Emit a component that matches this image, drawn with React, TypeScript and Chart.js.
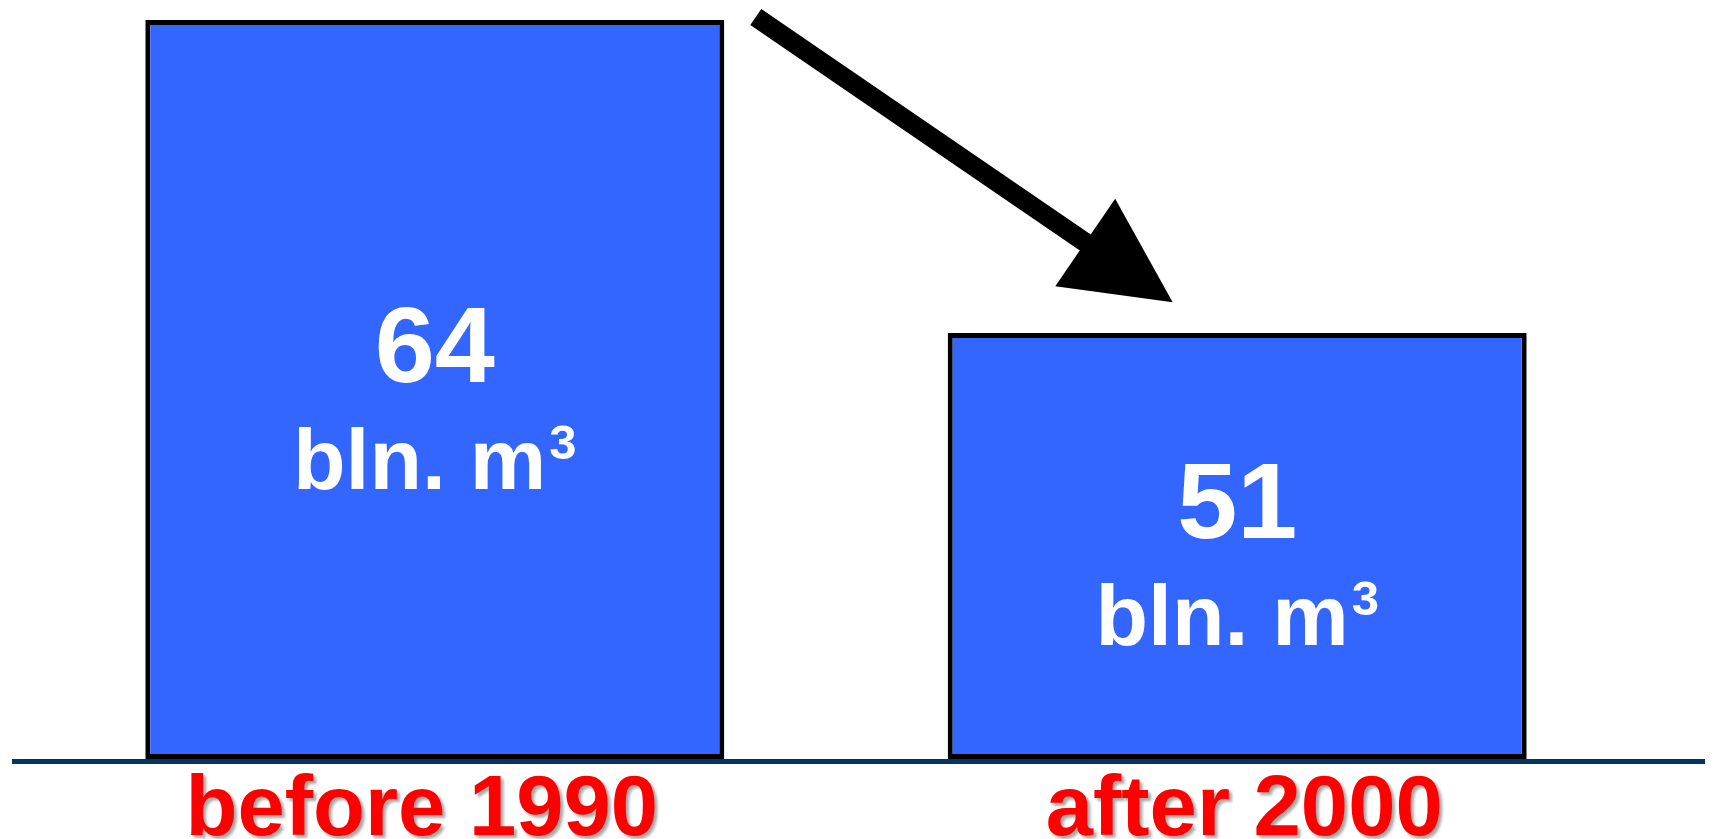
import React, { useEffect, useRef } from "react";
import { Chart, registerables } from "chart.js";

Chart.register(...registerables);

const categories = ["before 1990", "after 2000"];
const volumes = [64, 51];
const valueLabels = ["64", "51"];
const unitText = "bln. m";
const unitSup = "3";
const yMin = 33.3;
const yMax = 64;

const FONT = "'Liberation Sans', Arial, sans-serif";
const labelShift = [-13, 7];

const decorPlugin = {
  id: "decor",
  beforeDatasetsDraw(chart: any) {
    const ctx = chart.ctx;
    const area = chart.chartArea;
    ctx.save();
    ctx.strokeStyle = "#023564";
    ctx.lineWidth = 5;
    ctx.beginPath();
    ctx.moveTo(12, area.bottom + 2.5);
    ctx.lineTo(1705, area.bottom + 2.5);
    ctx.stroke();
    ctx.restore();
  },
  afterDatasetsDraw(chart: any) {
    const ctx = chart.ctx;
    const area = chart.chartArea;
    const meta = chart.getDatasetMeta(0);
    const labels = chart.data.labels as string[];
    const bottom = chart.scales.y.getPixelForValue(yMin);
    ctx.save();
    meta.data.forEach((el: any, i: number) => {
      const x = el.x;
      const cy = (el.y + bottom) / 2;
      ctx.fillStyle = "#ffffff";
      ctx.textBaseline = "alphabetic";
      ctx.textAlign = "center";
      ctx.font = `bold 108px ${FONT}`;
      ctx.fillText(valueLabels[i], x, cy - 8);
      ctx.font = `bold 86px ${FONT}`;
      const wMain = ctx.measureText(unitText).width;
      ctx.font = `bold 49px ${FONT}`;
      const wSup = ctx.measureText(unitSup).width;
      const total = wMain + 3 + wSup;
      const start = x - total / 2;
      ctx.textAlign = "left";
      ctx.font = `bold 86px ${FONT}`;
      ctx.fillText(unitText, start, cy + 99);
      ctx.font = `bold 49px ${FONT}`;
      ctx.fillText(unitSup, start + wMain + 3, cy + 69);

      // category labels
      ctx.save();
      ctx.shadowColor = "rgba(0,0,0,0.35)";
      ctx.shadowOffsetX = 3;
      ctx.shadowOffsetY = 3;
      ctx.shadowBlur = 3;
      ctx.fillStyle = "#ff0000";
      ctx.textAlign = "center";
      ctx.font = `bold 85px ${FONT}`;
      ctx.fillText(labels[i], x + labelShift[i], area.bottom + 76);
      ctx.restore();
    });

    // arrow from bar 1 to bar 2
    const b1 = meta.data[0] as any;
    const b2 = meta.data[1] as any;
    const sx = b1.x + b1.width / 2 + 31.5;
    const sy = b1.y - 3;
    const tx = b2.x - b2.width / 2 + 225;
    const ty = b2.y - 30.6;
    const dx = tx - sx;
    const dy = ty - sy;
    const len = Math.sqrt(dx * dx + dy * dy);
    const ux = dx / len;
    const uy = dy / len;
    const headLen = 106;
    const headHalf = 53;
    const bx = tx - ux * headLen;
    const by = ty - uy * headLen;
    ctx.strokeStyle = "#000000";
    ctx.fillStyle = "#000000";
    ctx.lineWidth = 19.5;
    ctx.lineCap = "butt";
    ctx.beginPath();
    ctx.moveTo(sx, sy);
    ctx.lineTo(bx + ux * 5, by + uy * 5);
    ctx.stroke();
    ctx.beginPath();
    ctx.moveTo(tx, ty);
    ctx.lineTo(bx - uy * headHalf, by + ux * headHalf);
    ctx.lineTo(bx + uy * headHalf, by - ux * headHalf);
    ctx.closePath();
    ctx.fill();
    ctx.restore();
  },
};

export default function App() {
  const ref = useRef<HTMLCanvasElement | null>(null);
  useEffect(() => {
    if (!ref.current) return;
    const chart = new Chart(ref.current, {
      type: "bar",
      data: {
        labels: categories,
        datasets: [
          {
            data: volumes,
            base: yMin,
            backgroundColor: "#3366ff",
            borderColor: "#000000",
            borderWidth: 5,
            borderSkipped: false,
            barPercentage: 0.7216,
            categoryPercentage: 1,
          } as any,
        ],
      },
      options: {
        responsive: false,
        animation: false,
        layout: { padding: { top: 20, bottom: 80, left: 33.6, right: 75.6 } },
        plugins: { legend: { display: false }, tooltip: { enabled: false } },
        scales: {
          x: { display: false },
          y: { display: false, min: yMin, max: yMax },
        },
      },
      plugins: [decorPlugin],
    });
    return () => chart.destroy();
  }, []);
  return (
    <div style={{ position: "fixed", left: 0, top: 0, width: 1714, height: 839, background: "#fff" }}>
      <canvas ref={ref} width={1714} height={839} />
    </div>
  );
}
